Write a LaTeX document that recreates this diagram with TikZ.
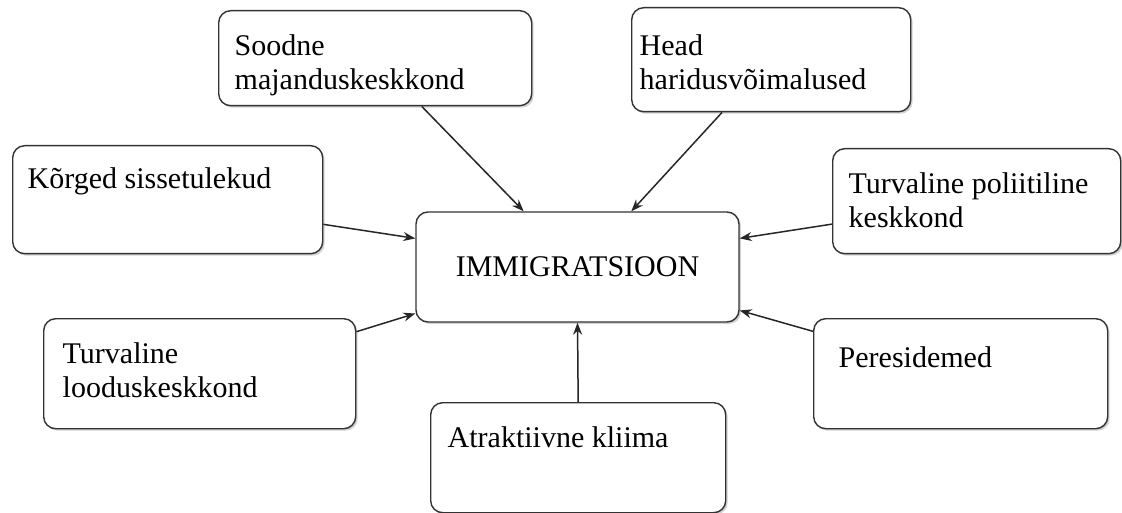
\documentclass[tikz,border=0pt]{standalone}
\usepackage{fontspec}
\setmainfont{Liberation Serif}
\usepackage{tikz}
\usetikzlibrary{arrows.meta, shadows}

\begin{document}
\begin{tikzpicture}
    [x=1pt, y=-1pt,
    box/.style={rectangle, draw=black!80, line width=1.4pt, rounded corners=12pt, fill=white,
        drop shadow={shadow xshift=2pt, shadow yshift=-2pt, opacity=0.35},
        anchor=north west, align=left, inner ysep=0pt, inner xsep=16pt, text height=45pt,
        font=\fontsize{30}{34}\selectfont,
        execute at begin node={\spaceskip=0pt\xspaceskip=0pt\relax}},
    centerbox/.style={rectangle, draw=black!80, line width=1.4pt, rounded corners=12pt, fill=white,
        drop shadow={shadow xshift=2pt, shadow yshift=-2pt, opacity=0.35},
        minimum width=323pt, minimum height=110pt, font=\fontsize{30}{34}\selectfont},
    arr/.style={-{Stealth[length=12pt, width=9pt]}, line width=1.5pt, black!85}]

    \useasboundingbox (0,0) rectangle (1122,513);

    %Nodes
    \node[centerbox](immi) at (577.5,267) {IMMIGRATSIOON};

    \node[box, text width=281pt, text depth=50pt](soodne) at (218,10) {Soodne\\majanduskeskkond};
    \node[box, inner xsep=8pt, text width=263pt, text height=48pt, text depth=56pt](head) at (631,7) {Head\\haridusvõimalused};
    \node[box, inner xsep=15pt, text width=280pt, text height=43pt, text depth=65pt](korged) at (12,145) {Kõrged sissetulekud};
    \node[box, text width=256pt, text depth=60pt](poliit) at (832,148) {Turvaline poliitiline\\keskkond};
    \node[box, inner xsep=19pt, text width=274pt, text depth=65pt](loodus) at (43,318) {Turvaline\\looduskeskkond};
    \node[box, inner xsep=25pt, text width=244pt, text height=49pt, text depth=61pt](pere) at (813,318) {Peresidemed};
    \node[box, inner xsep=17pt, text width=261pt, text depth=65pt](kliima) at (430,402) {Atraktiivne kliima};

    %Lines
    \draw[arr](soodne.-46)--(immi.134.7);
    \draw[arr](head.227)--(immi.46.9);
    \draw[arr](korged.-9.5)--(immi.170.9);
    \draw[arr](poliit.189.7)--(immi.10.2);
    \draw[arr](loodus.15.4)--(immi.-164.1);
    \draw[arr](pere.164)--(immi.-15.9);
    \draw[arr](kliima.north)--(immi.south);
\end{tikzpicture}
\end{document}
